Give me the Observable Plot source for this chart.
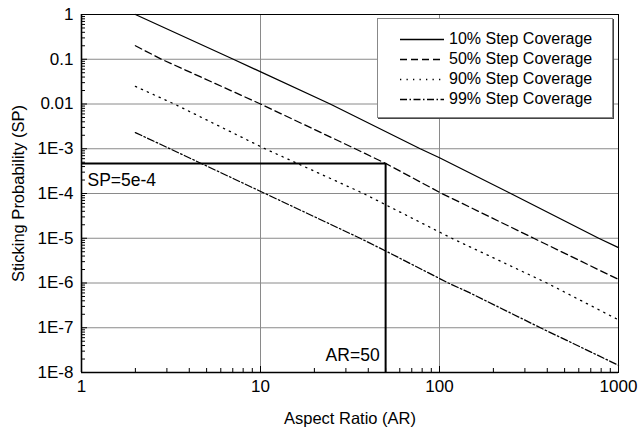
<!DOCTYPE html>
<html><head><meta charset="utf-8">
<script src="https://cdn.jsdelivr.net/npm/d3@7"></script>
<script src="https://cdn.jsdelivr.net/npm/@observablehq/plot@0.6"></script>
<style>
html,body{margin:0;padding:0;background:#fff;}
#wrap{position:relative;width:640px;height:445px;font-family:"Liberation Sans",Arial,Helvetica,sans-serif;}
#legend{position:absolute;left:377px;top:18px;width:234px;height:98px;background:#fff;border:1px solid #888;box-shadow:1px 1px 0 #444;}
.row{position:absolute;left:0;height:20px;display:flex;align-items:center;font-size:16px;color:#000;white-space:nowrap;}
.row svg{margin-left:22px;margin-right:5px;}
</style></head><body><div id="wrap"></div>
<script>
// ---- data ----
const seriesNames = ["10% Step Coverage", "50% Step Coverage", "90% Step Coverage", "99% Step Coverage"];
const ar10 = [2, 7.05, 24.5, 78, 100, 250, 775, 1000];
const sp10 = [1, 0.1, 0.01, 1e-3, 6.3e-4, 1e-4, 1e-5, 6.2e-6];
const ar50 = [2, 2.8, 10, 33.8, 50, 103, 336, 1000];
const sp50 = [0.2, 0.1, 0.01, 1e-3, 4.7e-4, 1e-4, 1e-5, 1.2e-6];
const ar90 = [2, 3.3, 10.6, 37.6, 50, 117, 398, 1000];
const sp90 = [0.0247, 0.01, 1e-3, 1e-4, 5.6e-5, 1e-5, 1e-6, 1.5e-7];
const ar99 = [2, 3.12, 10.6, 36, 50, 112, 148, 366, 1000];
const sp99 = [2.3e-3, 1e-3, 1e-4, 1e-5, 5.2e-6, 1e-6, 6e-7, 1e-7, 1.45e-8];
const xTickValues = [1, 10, 100, 1000];
const xTickLabels = ["1", "10", "100", "1000"];
const yTickValues = [1, 0.1, 0.01, 1e-3, 1e-4, 1e-5, 1e-6, 1e-7, 1e-8];
const yTickLabels = ["1", "0.1", "0.01", "1E-3", "1E-4", "1E-5", "1E-6", "1E-7", "1E-8"];
const xGridValues = [10, 100];
const markerSP = 4.7e-4, markerSPLabel = "SP=5e-4";
const markerAR = 50, markerARLabel = "AR=50";
const xTitle = "Aspect Ratio (AR)";
const yTitle = "Sticking Probability (SP)";

// ---- build ----
const seriesAR = [ar10, ar50, ar90, ar99];
const seriesSP = [sp10, sp50, sp90, sp99];
const dashes = [null, "7,4", "1.3,5.2", "7,2.5,1.5,2.5"];
const rows = seriesNames.map((name, s) => seriesAR[s].map((a, i) => ({series: name, ar: a, sp: seriesSP[s][i]})));

const xLab = new Map(xTickValues.map((v, i) => [v, xTickLabels[i]]));
const yLab = new Map(yTickValues.map((v, i) => [v, yTickLabels[i]]));

const W = 640, H = 445, mL = 81, mR = 22, mT = 14, mB = 73;
const innerW = W - mL - mR, innerH = H - mT - mB;

const yMinor = [];
for (let e = -8; e < 0; e++) for (let m = 2; m <= 9; m++) yMinor.push(m * Math.pow(10, e));
const xMinor = [];
for (let e = 0; e < 3; e++) for (let m = 2; m <= 9; m++) xMinor.push(m * Math.pow(10, e));

const tickFont = {fontSize: 17};
const titleFont = {fontSize: 16.5};
const marks = [
  Plot.ruleY(yTickValues, {stroke: "#8a8a8a", strokeWidth: 1}),
  Plot.ruleX(xGridValues, {stroke: "#8a8a8a", strokeWidth: 1}),
  Plot.tickY(yMinor, {y: d => d, insetRight: innerW - 4, stroke: "#000", strokeWidth: 1}),
  Plot.tickY(yTickValues, {y: d => d, insetRight: innerW - 6, stroke: "#000", strokeWidth: 1}),
  Plot.tickX(xMinor, {x: d => d, insetTop: innerH - 4, stroke: "#000", strokeWidth: 1}),
  Plot.tickX(xTickValues, {x: d => d, insetTop: innerH - 6, stroke: "#000", strokeWidth: 1}),
  Plot.frame({stroke: "#000", strokeWidth: 1}),
  Plot.ruleX([1], {stroke: "#000", strokeWidth: 1.6}),
  Plot.ruleY([1e-8], {stroke: "#000", strokeWidth: 1.6}),
  ...rows.map((r, s) => Plot.line(r, {x: "ar", y: "sp", stroke: "#000", strokeWidth: 1.3, strokeDasharray: dashes[s]})),
  Plot.ruleY([markerSP], {x1: 1, x2: markerAR, stroke: "#000", strokeWidth: 2}),
  Plot.ruleX([markerAR], {y1: 1e-8, y2: markerSP, stroke: "#000", strokeWidth: 2}),
  Plot.text([markerSPLabel], {x: 1, y: markerSP, text: d => d, textAnchor: "start", dx: 6, dy: 17, fontSize: 17.5}),
  Plot.text([markerARLabel], {x: markerAR, y: 1e-8, text: d => d, textAnchor: "end", dx: -6, dy: -17, fontSize: 17.5}),
  Plot.axisX({ticks: xTickValues, tickFormat: d => xLab.get(d), tickSize: 0, tickPadding: 7, label: null, ...tickFont}),
  Plot.axisY({ticks: yTickValues, tickFormat: d => yLab.get(d), tickSize: 0, tickPadding: 8, label: null, ...tickFont}),
  Plot.text([xTitle], {frameAnchor: "bottom", text: d => d, textAnchor: "middle", lineAnchor: "middle", dy: 46, ...titleFont}),
  Plot.text([yTitle], {frameAnchor: "left", text: d => d, rotate: -90, textAnchor: "middle", lineAnchor: "middle", dx: -63, ...titleFont})
];

const chart = Plot.plot({
  width: W, height: H,
  marginLeft: mL, marginRight: mR, marginTop: mT, marginBottom: mB,
  style: {fontFamily: '"Liberation Sans", Arial, Helvetica, sans-serif', fontSize: "16px", color: "#000", background: "#fff"},
  x: {type: "log", domain: [1, 1000]},
  y: {type: "log", domain: [1e-8, 1]},
  marks
});
const wrap = document.getElementById("wrap");
wrap.appendChild(chart);

// legend
const legend = document.createElement("div");
legend.id = "legend";
seriesNames.forEach((name, s) => {
  const row = document.createElement("div");
  row.className = "row";
  row.style.top = (10 + 20 * s) + "px";
  const svg = d3.create("svg").attr("width", 44).attr("height", 20);
  const ln = svg.append("line").attr("x1", 0).attr("x2", 44).attr("y1", 10.5).attr("y2", 10.5)
    .attr("stroke", "#000").attr("stroke-width", 1.3);
  if (dashes[s]) ln.attr("stroke-dasharray", dashes[s]);
  row.appendChild(svg.node());
  const t = document.createElement("span");
  t.textContent = name;
  row.appendChild(t);
  legend.appendChild(row);
});
wrap.appendChild(legend);
</script></body></html>
